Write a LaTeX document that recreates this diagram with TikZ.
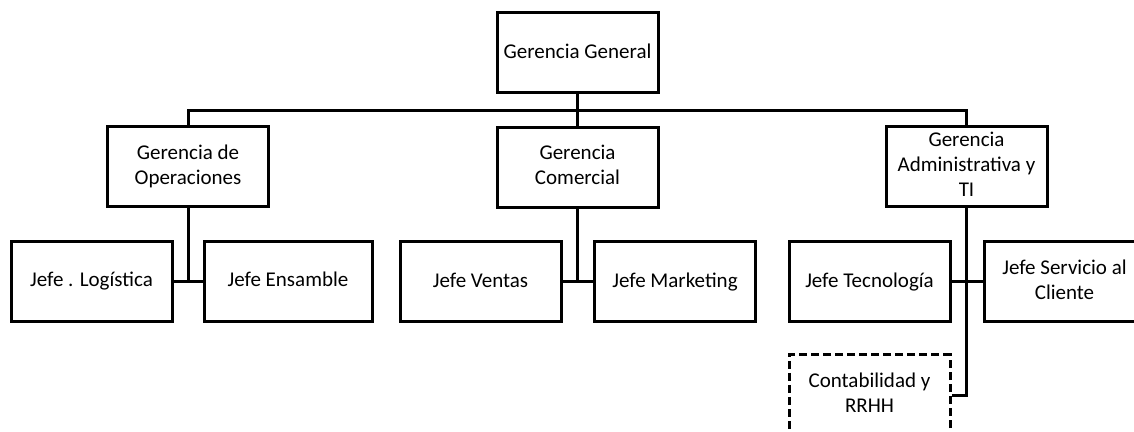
\documentclass[tikz,border=0pt]{standalone}
\usepackage{fontspec}
\setmainfont{Carlito}
\usepackage{tikz}
\usetikzlibrary{positioning}
\newcommand{\boxstrut}{\rule[-2.3pt]{0pt}{9.8pt}}

\begin{document}
\begin{tikzpicture}[x=0.5pt, y=-0.5pt,
    unit/.style={draw, line width=1.5pt, align=center, inner sep=2pt,
      minimum width=80.5pt, minimum height=40pt,
      font=\fontsize{10.5}{12.5}\selectfont,
      execute at begin node=\boxstrut, execute at end node=\boxstrut},
    support/.style={unit, dash pattern=on 4pt off 2pt},
    link/.style={line width=1.5pt}]
      \useasboundingbox (0,0) rectangle (1134,432);

      \node [unit] (gg)  at (577.5,53)  {Gerencia General};

      \node [unit] (op)  at (188,167)   {Gerencia de\\Operaciones};
      \node [unit] (com) at (577.5,167.5) {Gerencia\\Comercial};
      \node [unit] (adm) at (966.5,167) {Gerencia\\Administrativa y\\TI};
      \coordinate (bus) at (577.5,110.5);
      \draw [link] (gg) -- (bus);
      \draw [link] (op.north) |- (bus) -| (adm.north);
      \draw [link] (bus) -- (com.north);

      \node [unit] (log) at (91.5,281.5) {Jefe . Logística};
      \node [unit, minimum width=84pt] (ens) at (288,281.5) {Jefe Ensamble};
      \draw [link] (op) -- (op.south |- log.east);
      \draw [link] (log) -- (ens);

      \node [unit] (ven) at (480.5,282) {Jefe Ventas};
      \node [unit] (mkt) at (675,282)   {Jefe Marketing};
      \draw [link] (com) -- (com.south |- ven.east);
      \draw [link] (ven) -- (mkt);

      \node [unit] (tec) at (869.5,282) {Jefe Tecnología};
      \node [unit] (ser) at (1064.5,282) {Jefe Servicio al\\Cliente};
      \node [support] (con) at (869.5,395) {Contabilidad y\\RRHH};
      \draw [link] (tec) -- (ser);
      \draw [link] (adm.south) |- (con.east);
    \end{tikzpicture}
\end{document}
